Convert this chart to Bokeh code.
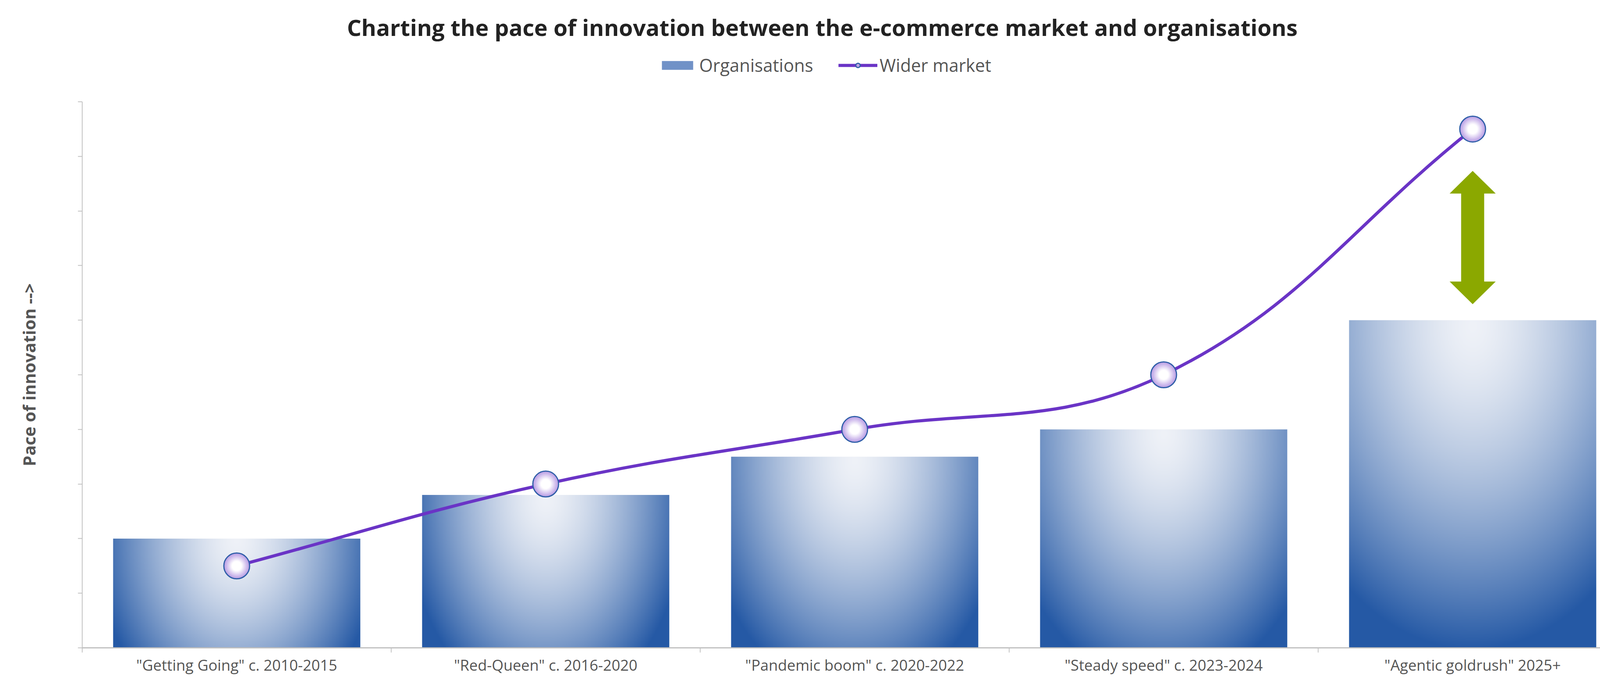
import numpy as np
from bokeh.plotting import figure
from bokeh.layouts import column
from bokeh.models import (Range1d, FixedTicker, CustomJSTickFormatter, Legend,
                          LegendItem, Label)
from bokeh.embed import file_html
from bokeh.resources import INLINE

# ---------------- data ----------------
title_text = "Charting the pace of innovation between the e-commerce market and organisations"
categories = ['"Getting Going" c. 2010-2015', '"Red-Queen" c. 2016-2020',
              '"Pandemic boom" c. 2020-2022', '"Steady speed" c. 2023-2024',
              '"Agentic goldrush" 2025+']
organisations = [2.0, 2.8, 3.5, 4.0, 6.0]
wider_market = [1.5, 3.0, 4.0, 5.0, 9.5]
y_ticks = list(range(0, 11))
y_axis_label = "Pace of innovation -->"
series_names = ["Organisations", "Wider market"]

# ---------------- layout (pixels) ----------------
W = 4209
HEAD_H = 250                     # header figure: title + legend
MAIN_H = 1753 - HEAD_H
FL, FR, FT, FB = 210, 44, 10, 95
n = len(categories)
frame_w = W - FL - FR
frame_h = MAIN_H - FT - FB
y_max = y_ticks[-1]
px_x = frame_w / n
px_y = frame_h / y_max
xs = [i + 0.5 for i in range(n)]

FONT = "Open Sans"
AXIS_GREY = "#bfbfbf"
TEXT_GREY = "#555555"
PURPLE = "#6a34c6"
GREEN = "#8ba800"
BAR_MID = "#7091c7"
MARK_FILL = "#bea3e4"
MARK_LINE = "#2d5ea8"

# ======================= main chart =======================
p = figure(width=W, height=MAIN_H, x_range=Range1d(0, n), y_range=Range1d(0, y_max),
           output_backend="svg", toolbar_location=None, title_location=None,
           min_border_left=FL, min_border_right=FR,
           min_border_top=FT, min_border_bottom=FB)
p.outline_line_color = None
p.xgrid.visible = False
p.ygrid.visible = False

# gradient bars (radial gradient, light at the top centre, dark towards the corners)
bar_w = 0.8
light = np.array([238.0, 241.0, 247.0])
dark = np.array([37.0, 89.0, 165.0])
imgs = []
for v in organisations:
    wpx = bar_w * px_x
    hpx = v * px_y
    nx = int(round(wpx / 2))
    ny = max(2, int(round(hpx / 2)))
    gx = (np.arange(nx) + 0.5) / nx * wpx - wpx / 2
    gyb = (np.arange(ny) + 0.5) / ny * hpx
    dy = (hpx - gyb) - 0.02 * hpx
    ry = 0.62 * hpx + 305.0
    rx = max(0.66 * ry, 360.0)
    X, Y = np.meshgrid(gx, dy)
    t = np.clip(np.sqrt((X / rx) ** 2 + (Y / ry) ** 2), 0, 1) ** 1.5
    rgb = light + (dark - light) * t[..., None]
    img = np.empty((ny, nx), dtype=np.uint32)
    view = img.view(dtype=np.uint8).reshape((ny, nx, 4))
    view[..., :3] = np.round(rgb).astype(np.uint8)
    view[..., 3] = 255
    imgs.append(img)

p.image_rgba(image=imgs, x=[x - bar_w / 2 for x in xs], y=[0] * n,
             dw=[bar_w] * n, dh=organisations)

# double arrow showing the gap
ai = n - 1
ax = xs[ai]
a_bot = organisations[ai] + 41 / px_y
a_top = wider_market[ai] - 107 / px_y
hh = 58 / px_y
shw = 29.5 / px_x
hhw = 59 / px_x
arrow_x = [ax, ax + hhw, ax + shw, ax + shw, ax + hhw, ax, ax - hhw, ax - shw, ax - shw, ax - hhw]
arrow_y = [a_top, a_top - hh, a_top - hh, a_bot + hh, a_bot + hh, a_bot,
           a_bot + hh, a_bot + hh, a_top - hh, a_top - hh]
p.patch(arrow_x, arrow_y, fill_color=GREEN, line_color=None)

# smooth line (Chart.js style cubic spline through the points)
tension = 0.4
P = [np.array([xs[i] * px_x, wider_market[i] * px_y]) for i in range(n)]
cp_prev, cp_next = [], []
for i in range(n):
    prev = P[i - 1] if i > 0 else P[i]
    cur = P[i]
    nxt = P[i + 1] if i < n - 1 else P[i]
    d01 = np.hypot(*(cur - prev))
    d12 = np.hypot(*(nxt - cur))
    tot = d01 + d12
    s01 = d01 / tot if tot > 0 else 0
    s12 = d12 / tot if tot > 0 else 0
    cp_prev.append(cur - tension * s01 * (nxt - prev))
    cp_next.append(cur + tension * s12 * (nxt - prev))
bez = dict(x0=xs[:-1], y0=wider_market[:-1], x1=xs[1:], y1=wider_market[1:],
           cx0=[c[0] / px_x for c in cp_next[:-1]], cy0=[c[1] / px_y for c in cp_next[:-1]],
           cx1=[c[0] / px_x for c in cp_prev[1:]], cy1=[c[1] / px_y for c in cp_prev[1:]])
p.bezier(**bez, line_color=PURPLE, line_width=8)

# markers: layered circles approximating a radial gradient
lav = np.array([186.0, 158.0, 228.0])
white = np.array([255.0, 255.0, 255.0])
p.scatter(xs, wider_market, size=66, marker="circle",
          fill_color=MARK_FILL, line_color=MARK_LINE, line_width=3)
for s in [60, 55, 50, 45, 40, 35, 30, 25, 20]:
    f = s / 66
    k = np.clip((f - 0.4) / 0.6, 0, 1)
    c = white + (lav - white) * k
    col = "#%02x%02x%02x" % tuple(int(round(v)) for v in c)
    p.scatter(xs, wider_market, size=s, marker="circle", fill_color=col, line_color=None)

# axes
p.xaxis.ticker = FixedTicker(ticks=xs, minor_ticks=list(range(n + 1)))
p.xaxis.formatter = CustomJSTickFormatter(
    args=dict(labels=categories),
    code="const i = Math.round(tick - 0.5); return (i >= 0 && i < labels.length) ? labels[i] : '';")
p.xaxis.major_tick_out = 0
p.xaxis.major_tick_in = 0
p.xaxis.minor_tick_out = 12
p.xaxis.minor_tick_in = 0
p.xaxis.minor_tick_line_color = AXIS_GREY
p.xaxis.minor_tick_line_width = 2
p.xaxis.axis_line_color = AXIS_GREY
p.xaxis.axis_line_width = 3
p.xaxis.major_label_text_font = FONT
p.xaxis.major_label_text_font_size = "38.5px"
p.xaxis.major_label_text_color = TEXT_GREY
p.xaxis.major_label_standoff = 5

p.yaxis.ticker = FixedTicker(ticks=[], minor_ticks=y_ticks)
p.yaxis.major_tick_out = 11
p.yaxis.major_tick_in = 0
p.yaxis.minor_tick_out = 11
p.yaxis.minor_tick_in = 0
p.yaxis.minor_tick_line_color = AXIS_GREY
p.yaxis.minor_tick_line_width = 2
p.yaxis.axis_line_color = AXIS_GREY
p.yaxis.axis_line_width = 2
p.yaxis.axis_label = y_axis_label
p.yaxis.axis_label_text_font = FONT
p.yaxis.axis_label_text_font_style = "bold"
p.yaxis.axis_label_text_font_size = "43.5px"
p.yaxis.axis_label_text_color = TEXT_GREY
p.yaxis.axis_label_standoff = 96

# ======================= header: title + legend =======================
# same side borders as the chart, so both frames line up
h = figure(width=W, height=HEAD_H, x_range=Range1d(0, frame_w), y_range=Range1d(0, HEAD_H),
           output_backend="svg", toolbar_location=None, title_location=None,
           x_axis_type=None, y_axis_type=None,
           min_border_left=FL, min_border_right=FR, min_border_top=0, min_border_bottom=0)
h.outline_line_color = None

page_centre = 2104.5
h.add_layout(Label(x=page_centre - FL, y=HEAD_H - 69, text=title_text, text_align="center",
                   text_baseline="alphabetic", text_font=FONT, text_font_style="bold",
                   text_font_size="58px", text_color="#222222"))

# legend glyph sources (hidden renderers carrying the series styles)
lg_bars = h.vbar(x=xs, top=organisations, width=bar_w, fill_color=BAR_MID,
                 line_color=None, visible=False)
lg_line = h.bezier(**bez, line_color=PURPLE, line_width=8, visible=False)
lg_mark = h.scatter(xs, wider_market, size=66, marker="circle", fill_color=MARK_FILL,
                    line_color=MARK_LINE, line_width=3, visible=False)

legend = Legend(items=[LegendItem(label=series_names[0], renderers=[lg_bars]),
                       LegendItem(label=series_names[1], renderers=[lg_line, lg_mark])],
                orientation="horizontal", location=(1474, HEAD_H - 197),
                label_text_font=FONT, label_text_font_size="45px",
                label_text_color=TEXT_GREY, glyph_width=100, glyph_height=28,
                label_standoff=6, spacing=64, padding=0, margin=0,
                border_line_color=None, background_fill_alpha=0,
                inactive_fill_alpha=0, click_policy="none")
h.add_layout(legend, "center")

layout = column(h, p, spacing=0)
open("out.html", "w").write(file_html(layout, INLINE))
